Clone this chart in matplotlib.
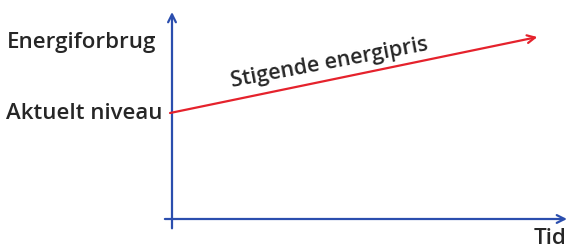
import matplotlib.pyplot as plt
import numpy as np

# Data: time axis (0..1) and energy use along the rising-price line
tid = [-0.005, 0.925]
energiforbrug = [0.512, 0.879]

y_labels = ['Energiforbrug', 'Aktuelt niveau']
y_label_x = [-0.04, -0.024]
y_label_y = [0.826, 0.485]
x_label = 'Tid'
line_label = 'Stigende energipris'

blue = '#2b4eae'
red = '#e5222c'
text_col = '#262626'

plt.rcParams['font.family'] = ['Open Sans', 'DejaVu Sans']
plt.rcParams['font.weight'] = 'semibold'

fig = plt.figure(figsize=(5.68, 2.52), dpi=100)
ax = fig.add_axes([172 / 568, 33 / 252, 395 / 568, 207 / 252])
ax.set_xlim(0, 1)
ax.set_ylim(0, 1)
ax.axis('off')

# axes drawn as arrows
ax.annotate('', xy=(0, 1.0), xytext=(0, -0.045),
            arrowprops=dict(arrowstyle='->', color=blue, lw=1.6,
                            mutation_scale=14, shrinkA=0, shrinkB=0),
            annotation_clip=False)
ax.annotate('', xy=(1.0, 0), xytext=(-0.018, 0),
            arrowprops=dict(arrowstyle='->', color=blue, lw=1.6,
                            mutation_scale=14, shrinkA=0, shrinkB=0),
            annotation_clip=False)

# rising line with arrow
ax.annotate('', xy=(tid[1], energiforbrug[1]), xytext=(tid[0], energiforbrug[0]),
            arrowprops=dict(arrowstyle='->', color=red, lw=1.6,
                            mutation_scale=14, shrinkA=0, shrinkB=0),
            annotation_clip=False)

# labels
for lab, xp, yp in zip(y_labels, y_label_x, y_label_y):
    ax.text(xp, yp, lab, ha='right', va='baseline', fontsize=16,
            color=text_col, transform=ax.transAxes)
ax.text(1.0, -0.12, x_label, ha='right', va='baseline', fontsize=16,
        color=text_col, transform=ax.transAxes, clip_on=False)

# label along the red line
p0 = ax.transData.transform((tid[0], energiforbrug[0]))
p1 = ax.transData.transform((tid[1], energiforbrug[1]))
angle = np.degrees(np.arctan2(p1[1] - p0[1], p1[0] - p0[0])) - 1.0
ax.text(0.152, 0.635, line_label, ha='left', va='baseline', fontsize=15.5,
        color=text_col, rotation=angle, rotation_mode='anchor')

fig.savefig('out.png', dpi=100)
